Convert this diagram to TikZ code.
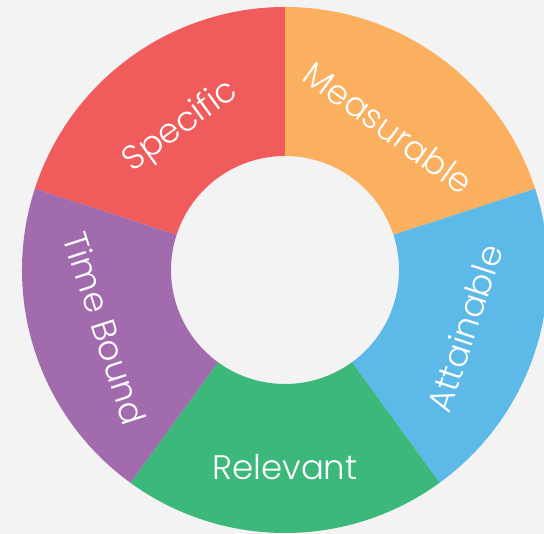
\documentclass[tikz,border=0pt]{standalone}
\usepackage{fontspec}
\usepackage{xcolor}
\usepackage{tikz}
\newfontfamily\segfont{Poppins}[UprightFont={* Light}]
\definecolor{bggray}{HTML}{F3F3F3}
\definecolor{specred}{HTML}{F05B5C}
\definecolor{measorange}{HTML}{FBB05F}
\definecolor{attblue}{HTML}{5DB9E8}
\definecolor{relgreen}{HTML}{3CB87B}
\definecolor{timepurple}{HTML}{A26BAD}

\begin{document}
\begin{tikzpicture}[x=1pt,y=1pt,
            lbl/.style={text=white, inner sep=0pt, font=\segfont\fontsize{34}{40}\selectfont}]
				\fill[bggray] (0,0) rectangle (544,534);
				\useasboundingbox (0,0) rectangle (544,534);
				\begin{scope}[shift={(285,264)}]
				\fill[specred] (90:263) arc[start angle=90,end angle=162,radius=263] -- (162:114) arc[start angle=162,end angle=90,radius=114] -- cycle;
				\fill[measorange] (18:263) arc[start angle=18,end angle=90,radius=263] -- (90:114) arc[start angle=90,end angle=18,radius=114] -- cycle;
				\fill[attblue] (-54:263) arc[start angle=-54,end angle=18,radius=263] -- (18:114) arc[start angle=18,end angle=-54,radius=114] -- cycle;
				\fill[relgreen] (-126:263) arc[start angle=-126,end angle=-54,radius=263] -- (-54:114) arc[start angle=-54,end angle=-126,radius=114] -- cycle;
				\fill[timepurple] (162:263) arc[start angle=162,end angle=234,radius=263] -- (234:114) arc[start angle=234,end angle=162,radius=114] -- cycle;

				\node[lbl, rotate=36] (specific) at (126:177) {Specific};
				\node[lbl, rotate=-36] (measurable) at (54:176) {Measurable};
				\node[lbl, rotate=72] (attainable) at (-18:189) {Attainable};
				\node[lbl] (relevant) at (-90:197) {Relevant};
				\node[lbl, rotate=-72] (timebound) at (198:189) {Time Bound};
				\end{scope}
 		\end{tikzpicture}
\end{document}
